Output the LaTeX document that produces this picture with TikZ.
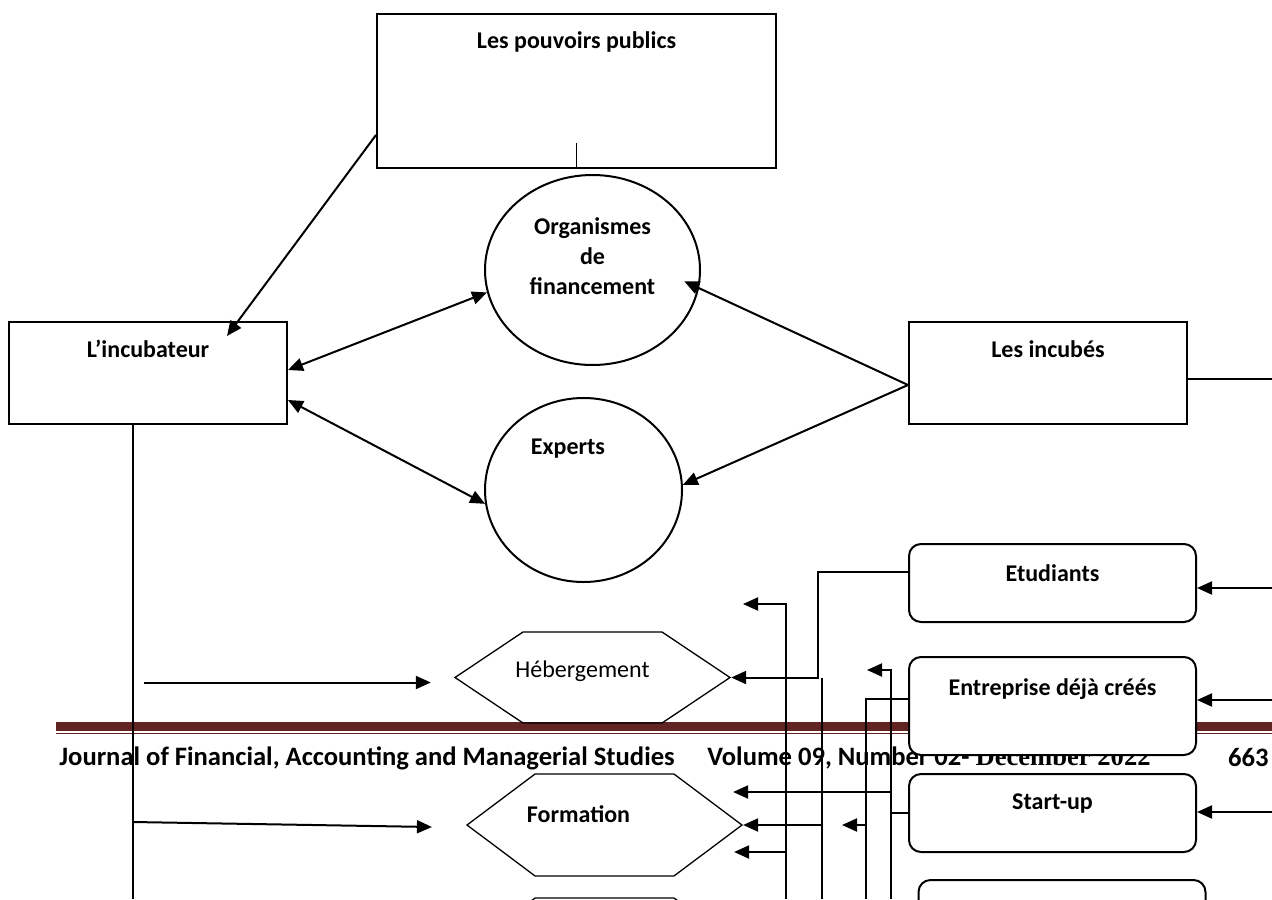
\documentclass[tikz,border=0pt]{standalone}
\usepackage{fontspec}
\setmainfont{Carlito}
\newfontfamily\footserif{Liberation Serif}
\definecolor{mybrown}{RGB}{98,36,35}
\usetikzlibrary{arrows.meta,shapes.geometric,shapes.symbols,calc}

\begin{document}
\begin{tikzpicture}[x=0.5pt,y=-0.5pt,
    font=\fontsize{12}{15}\selectfont\bfseries,
    box/.style={draw,rectangle,fill=white,line width=1pt,inner sep=0pt},
    rbox/.style={box,rounded corners=6pt,minimum width=143.5pt},
    bubble/.style={draw,ellipse,fill=white,line width=1pt,inner sep=0pt},
    hexa/.style={draw,signal,signal to=west and east,line width=0.65pt,inner sep=0pt,minimum width=137.5pt},
    arr/.style={-{Triangle[length=7.5pt,width=6.5pt]},line width=1pt},
    darr/.style={{Triangle[length=7.5pt,width=6.5pt]}-{Triangle[length=7.5pt,width=6.5pt]},line width=1pt},
    net/.style={line width=0.85pt},
    foot/.style={inner sep=0pt,anchor=west,font=\fontsize{13.3}{16}\selectfont\bfseries}
    ]
    \path[use as bounding box,clip] (0,0) rectangle (1272,899);

    % the page footer
    \fill[mybrown] (56,722) rectangle (1272,730.5);
    \fill[mybrown] (56,732.5) rectangle (1272,734);
    \node[foot] (journal) at (59,758) {Journal of Financial, Accounting and Managerial Studies};
    \node[foot] (volume) at (707,758) {Volume 09, Number 02- {\footserif December 2022}};
    \node[foot,anchor=east] (page) at (1269,758) {663};

    % the actors
    \node[box,minimum width=199.5pt,minimum height=77pt,
          label={[yshift=24.5pt]center:Les pouvoirs publics}] (pouv) at (576.5,91) {};
    \node[box,minimum width=139pt,minimum height=51pt,
          label={[yshift=12pt]center:L’incubateur}] (incub) at (148,373) {};
    \node[box,minimum width=139pt,minimum height=51pt,
          label={[yshift=12pt]center:Les incubés}] (incubes) at (1048,373) {};

    % the partners
    \node[bubble,minimum width=107.5pt,minimum height=95pt,
          label={[yshift=7pt,align=center]center:{Organismes\\de\\financement}}] (org) at (592.5,270) {};
    \node[bubble,minimum width=98.5pt,minimum height=92pt,
          label={[xshift=-7.75pt,yshift=20.5pt]center:Experts}] (experts) at (583.5,490) {};

    % the services
    \node[hexa,minimum height=45.5pt,signal pointer angle=67.6,
          label={[xshift=-5pt,yshift=3pt,font=\fontsize{12}{15}\selectfont\mdseries]center:Hébergement}] (heb) at (592.5,677.5) {};
    \node[hexa,minimum height=51pt,signal pointer angle=73.7,
          label={[xshift=-13pt,yshift=5.5pt]center:Formation}] (form) at (604.5,825) {};
    \node[hexa,minimum height=51pt,signal pointer angle=73.7] (hexc) at (604.5,949) {};

    % the kinds of incubés
    \node[rbox,minimum height=39pt,label={[yshift=5pt]center:Etudiants}] (etud) at (1052.5,583) {};
    \node[rbox,minimum height=49pt,label={[yshift=8.5pt]center:Entreprise déjà créés}] (entr) at (1052.5,706) {};
    \node[rbox,minimum height=39pt,label={[yshift=4.5pt]center:Start-up}] (start) at (1052.5,813) {};
    \node[rbox,minimum height=39pt] (other) at (1062,919) {};

    % the links round the incubator
    \draw[net] (pouv.south) -- ++(0,-26);
    \draw[arr] ([shift={(0,44)}]pouv.west) -- ([shift={(79,15)}]incub.north);
    \draw[darr] ([shift={(0,-3)}]incub.east) -- (org.192);
    \draw[darr] ([shift={(0,27)}]incub.east) -- (experts.188);
    \draw[arr] ([shift={(0,12)}]incubes.west) -- ([xshift=-8pt]org.354);
    \draw[arr] ([shift={(0,12)}]incubes.west) -- (experts.3);
    \draw[line width=1pt] ([shift={(0,6)}]incubes.east) -- (1272,379) coordinate (out);

    % the inputs on the right
    \foreach \n/\y in {etud/588,entr/700,start/812}
    \draw[arr] (1272,\y) coordinate (in\n) -- (in\n -| \n.east);

    % the incubator down to the services
    \coordinate (down) at (133,899);
    \draw[net] (down |- incub.south) -- (down);
    \draw[arr] ([shift={(-310,5)}]heb.west) -- ([shift={(-23,5)}]heb.west);
    \draw[arr] (down |- form.west) ++(0,-3) -- ([shift={(-34,2)}]form.west);

    % the incubés down to the services
    \coordinate (b1) at (786,899);
    \coordinate (b2) at (822,899);
    \coordinate (b3) at (866,899);
    \coordinate (b4) at (891,899);
    \coordinate (t1) at (743,604);
    \coordinate (t4) at (867,670);
    \draw[arr] ([shift={(0,-11)}]etud.west) -- ++(-90,0) |- (heb.east);
    \draw[net] (b2) -- (b2 |- heb.east);
    \draw[arr] (b2 |- form.east) -- (form.east);
    \draw[arr] (b1) |- (t1);
    \draw[arr] (b1 |- form.east) ++(0,27) -- ([shift={(-9,27)}]form.east);
    \draw[net] (b3) |- ([shift={(0,-7)}]entr.west);
    \draw[arr] (b3 |- form.east) -- ++(-24,0);
    \draw[arr] (b4) |- (t4);
    \draw[net] (b4 |- start.west) -- (start.west);
    \draw[arr] (b4 |- form.east) ++(0,-33) -- ([shift={(-10,-33)}]form.east);
\end{tikzpicture}
\end{document}
